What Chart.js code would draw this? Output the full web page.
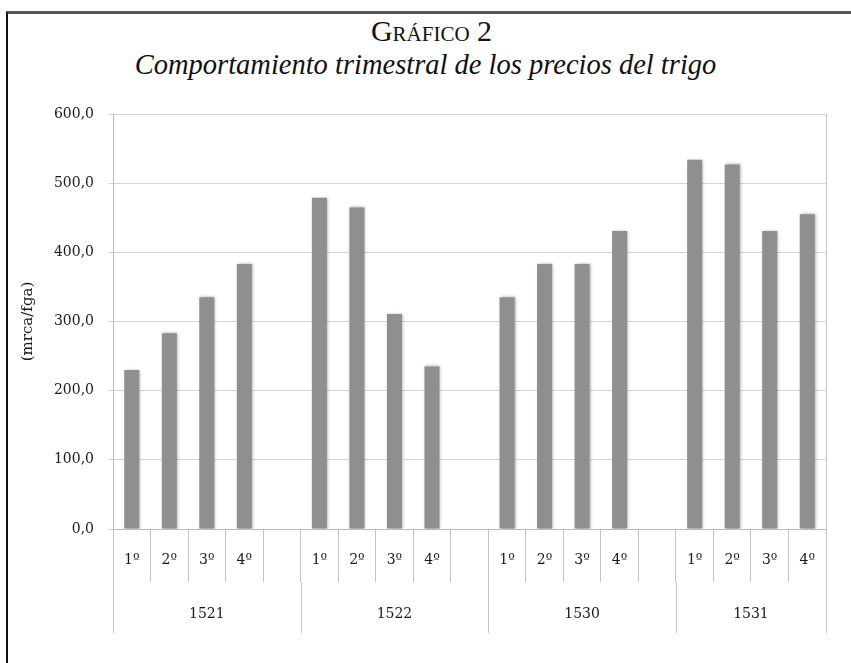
<!DOCTYPE html>
<html>
<head>
<meta charset="utf-8">
<script src="https://cdn.jsdelivr.net/npm/chart.js@4.4.1/dist/chart.umd.min.js"></script>
<style>
  body { margin: 0; background: #fff; }
  #page { position: relative; width: 851px; height: 663px; overflow: hidden; }
  #frame { position: absolute; left: 6px; top: 11px; width: 900px; height: 700px; border-top: 3px solid #555; border-left: 2px solid #111; }
  .head { position: absolute; left: 0; width: 851px; text-align: center; color: #111; font-family: "Liberation Serif", serif; }
  #title { top: 14px; left: 6px; font-size: 30px; font-variant: small-caps; }
  #subtitle { top: 49px; font-size: 28.5px; font-style: italic; }
  #chart { position: absolute; left: 0; top: 0; }
</style>
</head>
<body>
<div id="page">
  <div id="frame"></div>
  <div class="head" id="title">Gráfico 2</div>
  <div class="head" id="subtitle">Comportamiento trimestral de los precios del trigo</div>
  <canvas id="chart" width="851" height="663"></canvas>
</div>
<script>
const years = ['1521', '1522', '1530', '1531'];
const quarters = ['1º', '2º', '3º', '4º'];
const prices1521 = [230, 283, 335, 383];
const prices1522 = [479, 465, 311, 235];
const prices1530 = [335, 383, 383, 431];
const prices1531 = [534, 527, 431, 455];
const yTicks = [0, 100, 200, 300, 400, 500, 600];

const yearValues = [prices1521, prices1522, prices1530, prices1531];

// one slot per quarter, plus an empty slot between years
const labels = [];
const values = [];
const groups = [];
yearValues.forEach((list, index) => {
  const start = labels.length;
  quarters.forEach((quarter, q) => {
    labels.push(quarter);
    values.push(list[q]);
  });
  if (index < yearValues.length - 1) {
    labels.push('');
    values.push(null);
  }
  groups.push({ year: years[index], start, end: labels.length - 1 });
});

const textColor = '#1a1a1a';
const lineColor = '#c6c6c6';
const labelFont = { family: 'DejaVu Serif', size: 14 };

const yearAxisPlugin = {
  id: 'yearAxis',
  beforeDatasetsDraw(chart) {
    const { ctx } = chart;
    ctx.save();
    ctx.shadowColor = 'rgba(0,0,0,0.35)';
    ctx.shadowBlur = 3;
    ctx.shadowOffsetX = 1;
    ctx.shadowOffsetY = 0;
  },
  afterDatasetsDraw(chart) {
    chart.ctx.restore();
  },
  afterDraw(chart) {
    const { ctx, chartArea } = chart;
    const x = chart.scales.x;
    const slot = x.getPixelForValue(1) - x.getPixelForValue(0);
    const lineTop = chartArea.bottom + 53;
    const lineBottom = chartArea.bottom + 104;

    ctx.save();
    ctx.strokeStyle = lineColor;
    ctx.lineWidth = 1;
    const edges = groups.map((group) => x.getPixelForValue(group.start) - slot / 2);
    edges.push(x.getPixelForValue(labels.length - 1) + slot / 2);
    edges.forEach((edge) => {
      ctx.beginPath();
      ctx.moveTo(Math.round(edge) + 0.5, lineTop);
      ctx.lineTo(Math.round(edge) + 0.5, lineBottom);
      ctx.stroke();
    });

    // right border of the plot area
    ctx.beginPath();
    ctx.moveTo(Math.round(chartArea.right) + 0.5, chartArea.top);
    ctx.lineTo(Math.round(chartArea.right) + 0.5, chartArea.bottom);
    ctx.stroke();

    ctx.fillStyle = textColor;
    ctx.font = '14px "DejaVu Serif"';
    ctx.textAlign = 'center';
    ctx.textBaseline = 'middle';
    groups.forEach((group) => {
      const left = x.getPixelForValue(group.start) - slot / 2;
      const right = x.getPixelForValue(group.end) + slot / 2;
      ctx.fillText(group.year, (left + right) / 2, chartArea.bottom + 85);
    });
    ctx.restore();
  },
};

new Chart(document.getElementById('chart'), {
  type: 'bar',
  data: {
    labels,
    datasets: [
      {
        data: values,
        backgroundColor: '#8f8f8f',
        borderWidth: 0,
        barPercentage: 0.4,
        categoryPercentage: 1,
      },
    ],
  },
  options: {
    responsive: false,
    animation: false,
    layout: { padding: { top: 114, right: 25, left: 0, bottom: 0 } },
    plugins: { legend: { display: false }, tooltip: { enabled: false } },
    scales: {
      x: {
        grid: { offset: true, drawOnChartArea: false, tickLength: 53, color: lineColor },
        border: { color: '#bbbbbb' },
        ticks: { color: textColor, font: labelFont, padding: -30, maxRotation: 0, autoSkip: false },
        afterFit: (scale) => { scale.height = 134; },
      },
      y: {
        min: 0,
        max: 600,
        afterBuildTicks: (scale) => { scale.ticks = yTicks.map((value) => ({ value })); },
        grid: { color: '#d6d6d6', tickLength: 5 },
        border: { color: '#bbbbbb' },
        ticks: {
          color: textColor,
          font: labelFont,
          padding: 14,
          callback: (value) => value.toFixed(1).replace('.', ','),
        },
        title: {
          display: true,
          text: '(mrca/fga)',
          color: textColor,
          font: { family: 'DejaVu Serif', size: 15 },
          padding: { top: 19, bottom: 0 },
        },
        afterFit: (scale) => { scale.width = 113; },
      },
    },
  },
  plugins: [yearAxisPlugin],
});
</script>
</body>
</html>
